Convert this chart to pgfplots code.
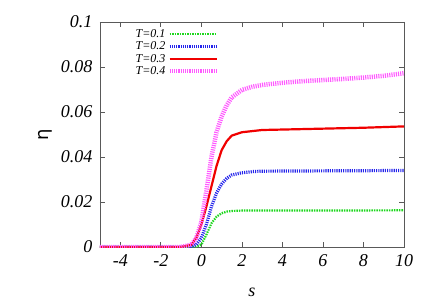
\documentclass[border=0pt]{standalone}
\usepackage{fontspec}
\setmainfont{Liberation Serif}
\newfontfamily\dejavu{DejaVu Sans}
\usepackage{pgfplots}
\pgfplotsset{compat=1.18}
\definecolor{cgreen}{RGB}{30,215,30}
\definecolor{cblue}{RGB}{35,35,235}
\definecolor{cred}{RGB}{240,0,0}
\definecolor{cmag}{RGB}{255,90,255}
\begin{document}
\begin{tikzpicture}
\begin{axis}[name=ax,
  scale only axis, width=304pt, height=225pt,
  xmin=-5, xmax=10, ymin=0, ymax=0.1,
  xtick={-4,-2,0,2,4,6,8,10},
  ytick={0,0.02,0.04,0.06,0.08,0.1},
  scaled y ticks=false,
  xticklabel={\textit{\pgfmathprintnumber[assume math mode=true]{\tick}}},
  yticklabel={\textit{\pgfmathprintnumber[assume math mode=true,fixed,precision=2]{\tick}}},
  xticklabel style={font=\fontsize{18}{20}\selectfont, yshift=-4pt},
  yticklabel style={font=\fontsize{18}{20}\selectfont, xshift=-4pt},
  tick align=inside, major tick length=5pt,
  tick style={gray!70!black, line width=0.6pt},
  axis line style={gray!70!black, line width=0.8pt},
  xlabel={\fontsize{18}{20}\selectfont\itshape s},
  ylabel={\fontsize{18}{20}\selectfont\dejavu η},
  xlabel style={yshift=-14pt},
  ylabel style={yshift=2pt},
  legend plot pos=right,
  legend cell align=right,
  legend style={draw=none, fill=none, at={(0.1,0.985)}, anchor=north west,
    font=\fontsize{12}{13.5}\selectfont\itshape, row sep=-1.2pt,
    /tikz/every even column/.append style={column sep=4pt}},
  legend image code/.code={\draw[#1] (0cm,0cm) -- (1.65cm,0cm);},
]
\addplot[cgreen, line width=2.2pt, dash pattern=on 1.4pt off 1.1pt] coordinates {
(-5,0) (-1,0) (-0.5,0) (-0.25,0.0002) (0,0.001) (0.25,0.0055) (0.5,0.0105) (0.75,0.0135)
(1,0.015) (1.25,0.0157) (1.5,0.016) (2,0.0162) (3,0.0162) (5,0.0162) (10,0.0163)};
\addlegendentry{T=0.1}
\addplot[cblue, line width=3.2pt, dash pattern=on 1.1pt off 1.1pt] coordinates {
(-5,0) (-1,0) (-0.5,0.0002) (-0.25,0.001) (0,0.004) (0.25,0.010) (0.5,0.018) (0.75,0.024)
(1,0.028) (1.25,0.0305) (1.5,0.032) (2,0.033) (2.5,0.0335) (3,0.0337) (5,0.0338) (10,0.034)};
\addlegendentry{T=0.2}
\addplot[cred, line width=2.2pt] coordinates {
(-5,0) (-1,0) (-0.5,0.001) (-0.25,0.004) (0,0.010) (0.25,0.018) (0.5,0.027) (0.75,0.036)
(1,0.043) (1.25,0.047) (1.5,0.0495) (2,0.051) (2.5,0.0515) (3,0.052) (4,0.0522) (6,0.0526) (8,0.053) (10,0.0536)};
\addlegendentry{T=0.3}
\addplot[cmag, line width=4.5pt, dash pattern=on 1.1pt off 1.1pt] coordinates {
(-5,0) (-1,0) (-0.5,0.001) (-0.25,0.004) (0,0.011) (0.25,0.025) (0.5,0.040) (0.75,0.051)
(1,0.058) (1.25,0.063) (1.5,0.0665) (2,0.0698) (2.5,0.0712) (3,0.072) (4,0.073) (5,0.0737)
(6,0.0742) (7,0.0747) (8,0.0753) (9,0.0761) (10,0.0772)};
\addlegendentry{T=0.4}
\end{axis}
\path ([xshift=-100pt,yshift=-58pt]ax.south west) rectangle ([xshift=32pt,yshift=22pt]ax.north east);
\end{tikzpicture}
\end{document}
